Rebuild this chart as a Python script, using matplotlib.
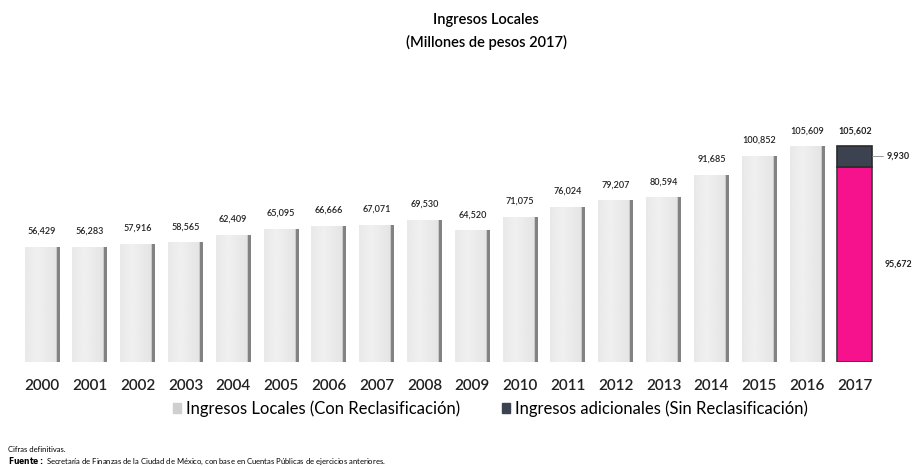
import matplotlib
matplotlib.use('Agg')
import matplotlib.pyplot as plt
import numpy as np

years = ['2000', '2001', '2002', '2003', '2004', '2005', '2006', '2007', '2008',
         '2009', '2010', '2011', '2012', '2013', '2014', '2015', '2016', '2017']
locales = [56429, 56283, 57916, 58565, 62409, 65095, 66666, 67071, 69530,
           64520, 71075, 76024, 79207, 80594, 91685, 100852, 105609, 95672]
adicionales = [0] * 17 + [9930]
total_2017 = 105602

plt.rcParams['font.family'] = ['Lato', 'DejaVu Sans']

fig = plt.figure(figsize=(9.17, 4.67), dpi=100)
ax = fig.add_axes([0, 105 / 467, 1, 245 / 467])

x = np.arange(len(years))
width = 0.73

bars = ax.bar(x[:-1], locales[:-1], width=width, color='#dedede',
              edgecolor='none', zorder=2)
pink = ax.bar(x[-1], locales[-1], width=width, color='#f5128c',
              edgecolor='#3b3b3b', linewidth=1.2, zorder=3)
dark = ax.bar(x[-1], adicionales[-1], bottom=locales[-1], width=width,
              color='#3d4250', edgecolor='#2a2a2a', linewidth=1.2, zorder=3)

# soft gradient inside the grey bars, darker shade on the right edge
grad = np.linspace(0, 1, 64)
shade = 0.94 - 0.08 * np.abs(grad - 0.35) - 0.38 * (grad > 0.91)
for b in bars:
    x0, y0 = b.get_x(), b.get_y()
    w, h = b.get_width(), b.get_height()
    im = ax.imshow(shade[np.newaxis, :], cmap='gray', vmin=0, vmax=1,
                   extent=[x0, x0 + w, y0, y0 + h], aspect='auto', zorder=2.5)
    im.set_clip_path(b)

ax.set_xlim(-0.878, 18.30)
ax.set_ylim(0, 120000)
for s in ax.spines.values():
    s.set_visible(False)
ax.set_yticks([])
ax.set_xticks(x)
ax.set_xticklabels(years, fontsize=11, color='#222222', fontweight='semibold')
ax.tick_params(axis='x', length=0, pad=12)

for i in range(len(years) - 1):
    ax.annotate(f'{locales[i]:,}', (x[i], locales[i]), xytext=(0, 8),
                textcoords='offset points', ha='center', va='bottom',
                fontsize=6.5, fontweight='semibold', color='#222222')
ax.annotate(f'{total_2017:,}', (x[-1], total_2017), xytext=(0, 8),
            textcoords='offset points', ha='center', va='bottom',
            fontsize=6.5, fontweight='bold', color='#222222')
ax.annotate(f'{adicionales[-1]:,}', (x[-1] + width / 2, locales[-1] + adicionales[-1] / 2),
            xytext=(10, 0), textcoords='offset points', ha='left', va='center',
            fontsize=6.5, fontweight='bold', color='#222222',
            arrowprops=dict(arrowstyle='-', color='#888888', lw=0.6,
                            shrinkA=0, shrinkB=0))
ax.annotate(f'{locales[-1]:,}', (x[-1] + width / 2, locales[-1] / 2),
            xytext=(9, 0), textcoords='offset points', ha='left', va='center',
            fontsize=6.3, fontweight='bold', color='#222222')

fig.text(0.53, 0.957, 'Ingresos Locales', ha='center', va='center',
         fontsize=10.5, fontweight='semibold')
fig.text(0.53, 0.91, '(Millones de pesos 2017)', ha='center', va='center',
         fontsize=10.5, fontweight='semibold')

h1 = plt.Rectangle((0, 0), 1, 1, color='#cfcfcf')
h2 = plt.Rectangle((0, 0), 1, 1, color='#3d4250')
fig.legend([h1, h2], ['Ingresos Locales (Con Reclasificación)',
                      'Ingresos adicionales (Sin Reclasificación)'],
           loc='center', bbox_to_anchor=(0.535, 0.125), ncol=2, frameon=False,
           fontsize=12, handlelength=0.5, handleheight=0.5, handletextpad=0.3,
           columnspacing=2.5)

fig.text(0.009, 0.038, 'Cifras definitivas.', fontsize=5.5, va='center')
fig.text(0.009, 0.012, r'$\bf{Fuente:}$ Secretaría de Finanzas de la Ciudad de México, con base en Cuentas Públicas de ejercicios anteriores.',
         fontsize=5.5, va='center')

fig.savefig('out.png', dpi=100)
